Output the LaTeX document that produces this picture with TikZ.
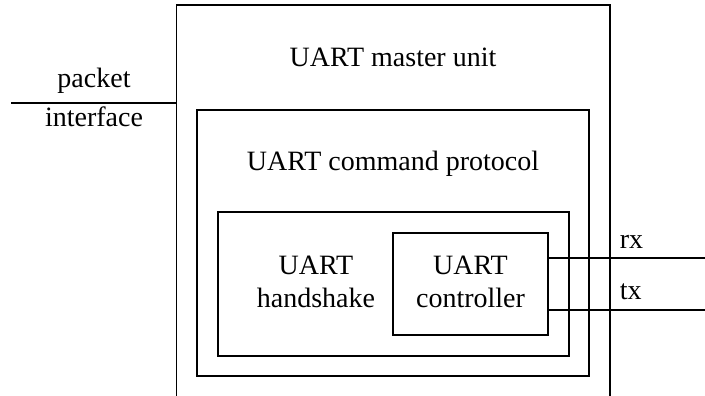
\documentclass[tikz,border=0pt]{standalone}
\usepackage{fontspec}
\setmainfont{Liberation Serif}
\usetikzlibrary{positioning}

\begin{document}
\begin{tikzpicture}[x=1pt,y=-1pt,line width=1.5pt,
                    font=\fontsize{28}{33}\selectfont,
                    unit box/.style={rectangle,draw,inner sep=0pt},
                    title/.style={anchor=base,inner sep=0pt},
                    sig label/.style={anchor=base west,inner sep=0pt}]
  \useasboundingbox (0,0) rectangle (705,396);
  % boxes
  \node[rectangle,inner sep=0pt,minimum width=432pt,minimum height=394pt] (master) at (393,203) {};
  \node[unit box,minimum width=392pt,minimum height=266pt] (cmd) at (393,243) {};
  \node[unit box,minimum width=351pt,minimum height=144pt] (hand) at (393.5,284) {};
  \node[unit box,minimum width=155pt,minimum height=102pt] (ctrl) at (470.5,284) {};
  \draw (master.south west) -- (master.north west) -- (master.north east) -- (master.south east);
  % texts
  \node[title] (masterT) at (393,67) {UART master unit};
  \node[title] (cmdT) at (393,170) {UART command protocol};
  \node[title,align=center] (handT) at (316,307) {UART\\handshake};
  \node[title,align=center] (ctrlT) at (470.5,307) {UART\\controller};
  % signals
  \coordinate (pkt) at (11,103);
  \coordinate (rxEnd) at (705,258);
  \coordinate (txEnd) at (705,310);
  \draw (pkt) -- (pkt -| master.west);
  \node[title] (pktA) at (94,88) {packet};
  \node[title] (pktB) at (94,127) {interface};
  \draw (rxEnd -| ctrl.east) -- (rxEnd);
  \draw (txEnd -| ctrl.east) -- (txEnd);
  \node[sig label] (rxT) at (619,248) {rx};
  \node[sig label] (txT) at (619,299) {tx};
\end{tikzpicture}
\end{document}
